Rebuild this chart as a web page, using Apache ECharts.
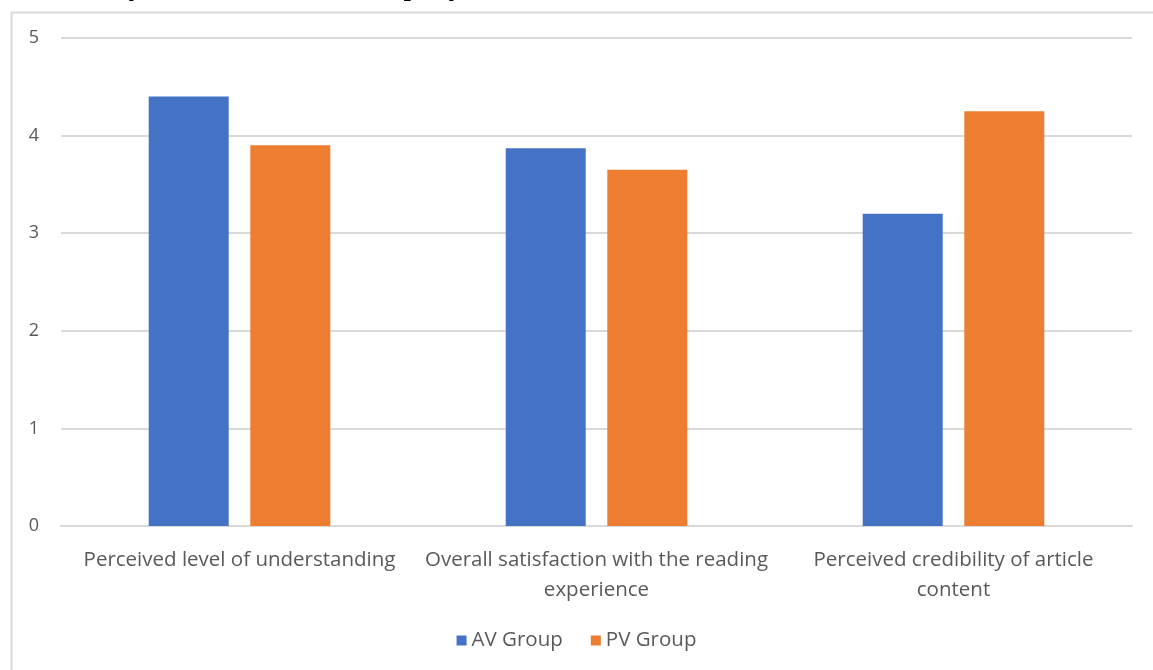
<!DOCTYPE html>
<html>
<head>
<meta charset="utf-8">
<script src="https://cdn.jsdelivr.net/npm/echarts@6/dist/echarts.min.js"></script>
<style>
html,body{margin:0;padding:0;background:#fff;}
#c{width:1153px;height:670px;}
</style>
</head>
<body>
<div id="c"></div>
<script>
const categories = [
  "Perceived level of understanding",
  "Overall satisfaction with the reading\nexperience",
  "Perceived credibility of article\ncontent"
];
const avGroup = [4.4, 3.87, 3.2];
const pvGroup = [3.9, 3.65, 4.25];
const seriesNames = ["AV Group", "PV Group"];
const captionText = "нок 2. Результати тестового опросу.";

const chart = echarts.init(document.getElementById('c'), null, {renderer: 'canvas'});
const labelColor = '#595959';
const font = '"Open Sans", sans-serif';
chart.setOption({
  animation: false,
  backgroundColor: '#fff',
  graphic: [
    {type: 'rect', left: 9, top: 10, shape: {width: 1300, height: 800}, style: {fill: 'none', stroke: '#d9d9d9', lineWidth: 2}, silent: true},
    {type: 'text', left: 0, top: -30, style: {text: captionText, fill: '#000', font: '31px "Liberation Serif", serif'}, silent: true}
  ],
  grid: {left: 61, right: 21, top: 38, bottom: 144, containLabel: false},
  legend: {
    data: seriesNames, bottom: 14, left: 'center', itemWidth: 10, itemHeight: 10, itemGap: 28, icon: 'rect',
    textStyle: {color: labelColor, fontSize: 20.5, fontFamily: font}
  },
  xAxis: {
    type: 'category', data: categories,
    axisLine: {show: true, lineStyle: {color: '#d9d9d9', width: 2}},
    axisTick: {show: false},
    axisLabel: {color: labelColor, fontSize: 20.5, fontFamily: font, lineHeight: 30, margin: 19, interval: 0}
  },
  yAxis: {
    type: 'value', min: 0, max: 5, interval: 1,
    axisLine: {show: false}, axisTick: {show: false},
    axisLabel: {color: labelColor, fontSize: 18, fontFamily: font, margin: 22},
    splitLine: {lineStyle: {color: '#d9d9d9', width: 2}}
  },
  series: [
    {name: seriesNames[0], type: 'bar', data: avGroup, barWidth: 80, barGap: '27%', itemStyle: {color: '#4472c4'}},
    {name: seriesNames[1], type: 'bar', data: pvGroup, barWidth: 80, itemStyle: {color: '#ed7d31'}}
  ]
});
</script>
</body>
</html>
